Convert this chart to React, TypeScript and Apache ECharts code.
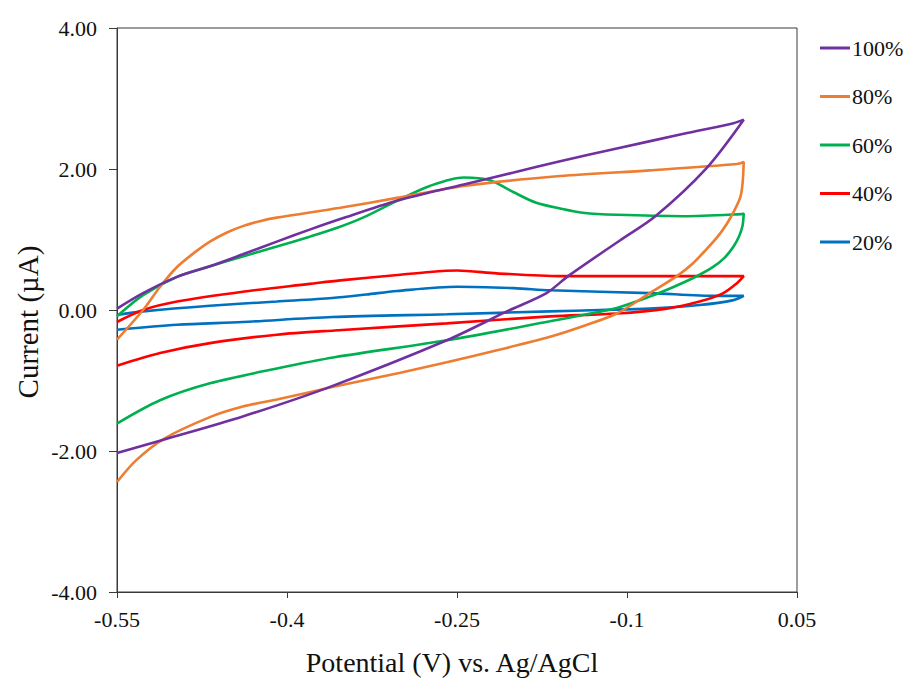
import React, { useEffect, useRef } from "react";
import * as echarts from "echarts";

// Legend labels and colours
const seriesNames = ["100%", "80%", "60%", "40%", "20%"];
const seriesColors = ["#7030A0", "#ED7D31", "#00B050", "#FF0000", "#0070C0"];

// x tick labels (potential, V vs Ag/AgCl)
const xTicks = [-0.55, -0.4, -0.25, -0.1, 0.05];
const yTicks = [-4, -2, 0, 2, 4];

// Cyclic voltammograms: [potential (V), current (µA)], forward sweep then reverse sweep
const cv100: [number, number][] = [
  [-0.55, 0.02], [-0.527, 0.24], [-0.497, 0.47], [-0.468, 0.62], [-0.439, 0.79], [-0.409, 0.97],
  [-0.38, 1.14], [-0.353, 1.29], [-0.303, 1.55], [-0.244, 1.78], [-0.2, 1.95], [-0.159, 2.11],
  [-0.109, 2.29], [-0.05, 2.5], [-0.006, 2.65], [0.003, 2.7],
  [-0.03, 2.01], [-0.075, 1.33], [-0.106, 0.99], [-0.152, 0.48], [-0.171, 0.24], [-0.206, -0.02],
  [-0.259, -0.43], [-0.362, -1.09], [-0.439, -1.51], [-0.509, -1.84], [-0.55, -2.03],
];

const cv80: [number, number][] = [
  [-0.55, -0.42], [-0.527, 0.0], [-0.512, 0.33], [-0.497, 0.61], [-0.482, 0.81], [-0.468, 0.97],
  [-0.453, 1.1], [-0.439, 1.19], [-0.424, 1.26], [-0.409, 1.31], [-0.353, 1.45], [-0.303, 1.59],
  [-0.244, 1.76], [-0.159, 1.9], [-0.08, 1.98], [-0.003, 2.07], [0.003, 2.1],
  [0.002, 1.8], [0.0, 1.6], [-0.005, 1.42], [-0.012, 1.22], [-0.02, 1.04], [-0.03, 0.86],
  [-0.042, 0.66], [-0.056, 0.48], [-0.08, 0.24], [-0.109, -0.05], [-0.139, -0.23], [-0.168, -0.38],
  [-0.212, -0.56], [-0.259, -0.74], [-0.3, -0.89], [-0.359, -1.09], [-0.409, -1.27], [-0.439, -1.37],
  [-0.468, -1.52], [-0.509, -1.83], [-0.533, -2.13], [-0.55, -2.44],
];

const cv60: [number, number][] = [
  [-0.55, -0.09], [-0.527, 0.21], [-0.497, 0.47], [-0.468, 0.62], [-0.439, 0.76], [-0.409, 0.9],
  [-0.38, 1.04], [-0.355, 1.17], [-0.333, 1.31], [-0.303, 1.55], [-0.274, 1.76], [-0.244, 1.88],
  [-0.221, 1.84], [-0.2, 1.67], [-0.18, 1.52], [-0.159, 1.44], [-0.139, 1.38], [-0.109, 1.35],
  [-0.05, 1.33], [0.001, 1.36], [0.003, 1.37],
  [0.002, 1.2], [-0.001, 1.05], [-0.006, 0.9], [-0.014, 0.74], [-0.025, 0.6], [-0.042, 0.45],
  [-0.06, 0.32], [-0.08, 0.19], [-0.109, 0.03], [-0.139, -0.07], [-0.168, -0.16], [-0.259, -0.43],
  [-0.358, -0.67], [-0.409, -0.83], [-0.468, -1.04], [-0.512, -1.28], [-0.55, -1.61],
];

const cv40: [number, number][] = [
  [-0.55, -0.17], [-0.527, 0.0], [-0.497, 0.12], [-0.439, 0.26], [-0.38, 0.37], [-0.353, 0.42],
  [-0.3, 0.5], [-0.274, 0.54], [-0.25, 0.56], [-0.215, 0.52], [-0.159, 0.48], [-0.1, 0.48],
  [0.001, 0.48], [0.003, 0.48],
  [-0.003, 0.38], [-0.015, 0.24], [-0.036, 0.12], [-0.065, 0.02], [-0.109, -0.05], [-0.168, -0.09],
  [-0.259, -0.19], [-0.358, -0.29], [-0.409, -0.35], [-0.468, -0.47], [-0.512, -0.61], [-0.55, -0.79],
];

const cv20: [number, number][] = [
  [-0.55, -0.07], [-0.527, -0.02], [-0.468, 0.06], [-0.409, 0.12], [-0.36, 0.17], [-0.33, 0.22],
  [-0.303, 0.27], [-0.25, 0.33], [-0.2, 0.31], [-0.168, 0.28], [-0.08, 0.24], [-0.021, 0.2],
  [0.003, 0.2],
  [-0.006, 0.14], [-0.036, 0.07], [-0.08, 0.02], [-0.124, 0.0], [-0.168, -0.02], [-0.259, -0.06],
  [-0.36, -0.1], [-0.439, -0.17], [-0.497, -0.21], [-0.55, -0.28],
];

const allCurves = [cv100, cv80, cv60, cv40, cv20];

const X_ORIGIN = xTicks[0];
const X_STEP = 0.15;
const FONT = "Liberation Serif, Times New Roman, serif";

export default function App() {
  const ref = useRef<HTMLDivElement>(null);

  useEffect(() => {
    if (!ref.current) return;
    const chart = echarts.init(ref.current, undefined, { renderer: "svg" });
    const axisColor = "#3a3a3a";

    const series = allCurves.map((curve, i) => ({
      name: seriesNames[i],
      type: "line",
      data: curve.map(([v, c]) => [v - X_ORIGIN, c]),
      symbol: "none",
      showSymbol: false,
      smooth: 0.3,
      lineStyle: { color: seriesColors[i], width: 2.6 },
      itemStyle: { color: seriesColors[i] },
      z: 10 - i,
    }));

    chart.setOption({
      animation: false,
      backgroundColor: "#ffffff",
      textStyle: { fontFamily: FONT },
      grid: {
        left: 117,
        top: 28,
        right: 111,
        bottom: 88,
        show: true,
        borderColor: axisColor,
        borderWidth: 1,
        backgroundColor: "transparent",
      },
      xAxis: {
        type: "value",
        min: 0,
        max: xTicks[xTicks.length - 1] - X_ORIGIN,
        interval: X_STEP,
        axisLine: { show: true, onZero: false, lineStyle: { color: axisColor, width: 1 } },
        axisTick: { show: true, length: 6, lineStyle: { color: axisColor } },
        splitLine: { show: false },
        axisLabel: {
          fontSize: 22,
          color: "#111",
          fontFamily: FONT,
          margin: 16,
          formatter: (u: number) => {
            const v = Math.round((u + X_ORIGIN) * 100) / 100;
            return String(v);
          },
        },
      },
      yAxis: {
        type: "value",
        min: yTicks[0],
        max: yTicks[yTicks.length - 1],
        interval: 2,
        axisLine: { show: true, lineStyle: { color: axisColor, width: 1 } },
        axisTick: { show: true, length: 8, lineStyle: { color: axisColor } },
        splitLine: { show: false },
        axisLabel: {
          fontSize: 22,
          color: "#111",
          fontFamily: FONT,
          margin: 20,
          formatter: (v: number) => v.toFixed(2),
        },
      },
      legend: {
        orient: "vertical",
        left: 815,
        top: 31,
        icon: "rect",
        itemWidth: 30,
        itemHeight: 3,
        itemGap: 24.5,
        textStyle: { fontSize: 22, color: "#111", fontFamily: FONT, lineHeight: 24, padding: [0, 0, 0, -3] },
        data: seriesNames.map((n, i) => ({ name: n, itemStyle: { color: seriesColors[i] } })),
      },
      graphic: [
        {
          type: "text",
          x: 452,
          y: 662,
          style: {
            text: "Potential (V) vs. Ag/AgCl",
            fontSize: 28,
            fontFamily: FONT,
            fill: "#111",
            align: "center",
            verticalAlign: "middle",
          },
        },
        {
          type: "text",
          x: 28,
          y: 322,
          rotation: Math.PI / 2,
          style: {
            text: "Current (µA)",
            fontSize: 29,
            fontFamily: FONT,
            fill: "#111",
            align: "center",
            verticalAlign: "middle",
          },
        },
      ],
      series,
    });

    return () => chart.dispose();
  }, []);

  return (
    <div
      ref={ref}
      style={{ position: "fixed", left: 0, top: 0, width: 908, height: 680, background: "#fff" }}
    />
  );
}
